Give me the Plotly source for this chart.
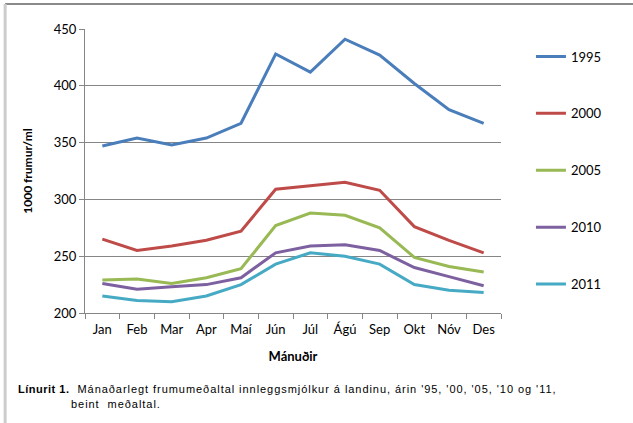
import plotly.graph_objects as go

months = ["Jan", "Feb", "Mar", "Apr", "Maí", "Jún", "Júl", "Ágú", "Sep", "Okt", "Nóv", "Des"]
years = ["1995", "2000", "2005", "2010", "2011"]
v1995 = [347, 354, 348, 354, 367, 428, 412, 441, 427, 402, 379, 367]
v2000 = [265, 255, 259, 264, 272, 309, 312, 315, 308, 276, 264, 253]
v2005 = [229, 230, 226, 231, 239, 277, 288, 286, 275, 249, 241, 236]
v2010 = [226, 221, 223, 225, 231, 253, 259, 260, 255, 240, 232, 224]
v2011 = [215, 211, 210, 215, 225, 243, 253, 250, 243, 225, 220, 218]
series = [v1995, v2000, v2005, v2010, v2011]
colors = ["#4A7EBB", "#BE4B48", "#98B954", "#7D60A0", "#46AAC5"]
y_ticks = [200, 250, 300, 350, 400, 450]

fig = go.Figure()
for name, vals, col in zip(years, series, colors):
    fig.add_trace(go.Scatter(x=months, y=vals, mode="lines", name=name,
                             legendgroup=name,
                             line=dict(color=col, width=3)))

tick_font = dict(family="Lato, Open Sans, sans-serif", size=13, color="#000")

fig.update_layout(
    width=633, height=423,
    margin=dict(l=85, r=132, t=29, b=110, autoexpand=False),
    paper_bgcolor="white", plot_bgcolor="white",
    showlegend=True,
    legend=dict(x=1.072, y=0.956, xanchor="left", yanchor="top",
                font=tick_font, tracegroupgap=37, itemwidth=30,
                bgcolor="rgba(0,0,0,0)"),
    xaxis=dict(type="category", range=[-0.5, 11.5], tickson="boundaries", ticks="outside",
               ticklen=5, tickcolor="#868686", showline=True,
               linecolor="#868686", linewidth=1, showgrid=False,
               tickfont=tick_font, automargin=False, ticklabelstandoff=4,
               title=dict(text="<b>Mánuðir</b>", font=dict(family="Lato, Open Sans, sans-serif", size=13, color="#000"), standoff=16)),
    yaxis=dict(range=[200, 450], tickvals=y_ticks, ticks="outside",
               ticklen=5, tickcolor="#868686", showline=True,
               linecolor="#868686", linewidth=1, showgrid=True,
               gridcolor="#868686", gridwidth=1, zeroline=False,
               tickfont=tick_font, automargin=False,
               title=dict(text="<b>1000 frumur/ml</b>", font=dict(family="Lato, Open Sans, sans-serif", size=12, color="#000"), standoff=18)),
)

# frame lines around the figure
fig.add_shape(type="line", xref="paper", yref="paper", x0=-0.192, x1=1.4, y0=1.088, y1=1.088,
              line=dict(color="#8a8a8a", width=2))
fig.add_shape(type="line", xref="paper", yref="paper", x0=-0.192, x1=-0.192, y0=1.088, y1=-0.4,
              line=dict(color="#cccccc", width=3))

fig.add_annotation(xref="paper", yref="paper", x=-0.166, y=-0.266, xanchor="left", yanchor="middle",
                   showarrow=False, align="left",
                   text="<b>Línurit 1.</b>  Mánaðarlegt frumumeðaltal innleggsmjólkur á landinu, árin '95, '00, '05, '10 og '11,",
                   font=dict(family="Liberation Sans, Arial, sans-serif", size=11, color="#000"))
fig.add_annotation(xref="paper", yref="paper", x=-0.038, y=-0.319, xanchor="left", yanchor="middle",
                   showarrow=False, align="left",
                   text="beint  meðaltal.",
                   font=dict(family="Liberation Sans, Arial, sans-serif", size=11, color="#000"))

post = """
document.body.style.margin='0';
document.body.style.overflow='hidden';
document.querySelectorAll('g.annotation text').forEach(function(t){
  t.style.letterSpacing='0.95px';
  t.querySelectorAll('tspan').forEach(function(s){
    if ((s.getAttribute('style')||'').indexOf('bold')>=0) s.style.letterSpacing='0.5px';
  });
});
"""

fig.write_html("out.html", post_script=post, config={"displayModeBar": False})
